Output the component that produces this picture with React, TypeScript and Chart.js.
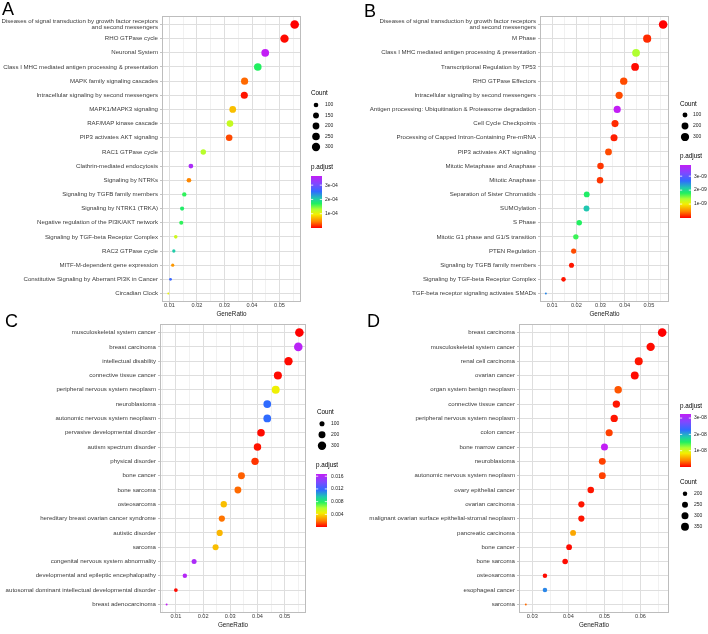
import { useEffect, useRef } from 'react';
import { Chart, registerables } from 'chart.js';

Chart.register(...registerables);

const W = 708;
const H = 634;
const FONT = '"Liberation Sans", Arial, Helvetica, sans-serif';
const TICK_TEXT = '#3A3A3A';
const X_AXIS_H = 20;
const R_MIN = 1.0;
const R_MAX = 4.3;

// rainbow ramp used for p.adjust (low = red, high = purple)
const RAMP: [number, string][] = [
  [0.0, '#FF0000'],
  [0.12, '#FF8000'],
  [0.26, '#F5EE00'],
  [0.36, '#B0FF30'],
  [0.47, '#20F060'],
  [0.57, '#20C8B0'],
  [0.7, '#2F6BFF'],
  [0.85, '#8048FF'],
  [1.0, '#C21EF5'],
];

// ---------- A: Reactome pathways ----------
const termsA = [
  'Diseases of signal transduction by growth factor receptors\nand second messengers',
  'RHO GTPase cycle',
  'Neuronal System',
  'Class I MHC mediated antigen processing & presentation',
  'MAPK family signaling cascades',
  'Intracellular signaling by second messengers',
  'MAPK1/MAPK3 signaling',
  'RAF/MAP kinase cascade',
  'PIP3 activates AKT signaling',
  'RAC1 GTPase cycle',
  'Clathrin-mediated endocytosis',
  'Signaling by NTRKs',
  'Signaling by TGFB family members',
  'Signaling by NTRK1 (TRKA)',
  'Negative regulation of the PI3K/AKT network',
  'Signaling by TGF-beta Receptor Complex',
  'RAC2 GTPase cycle',
  'MITF-M-dependent gene expression',
  'Constitutive Signaling by Aberrant PI3K in Cancer',
  'Circadian Clock',
];
const ratioA = [0.0555, 0.0518, 0.0448, 0.0421, 0.0373, 0.0372, 0.033, 0.032, 0.0317, 0.0223, 0.0178, 0.0171, 0.0154, 0.0146, 0.0143, 0.0123, 0.0116, 0.0112, 0.0104, 0.0096];
const countA = [327, 306, 264, 248, 220, 219, 195, 189, 187, 132, 105, 101, 91, 86, 84, 73, 68, 66, 61, 57];
const padjA = [1.2e-7, 3.6e-6, 3.64e-4, 1.71e-4, 3.6e-5, 7.3e-6, 7.3e-5, 1.2e-4, 2.5e-5, 1.27e-4, 3.46e-4, 4.7e-5, 1.67e-4, 1.75e-4, 1.67e-4, 1.16e-4, 2.04e-4, 5.5e-5, 2.62e-4, 1.02e-4];
const xTicksA = [0.01, 0.02, 0.03, 0.04, 0.05];
const countBreaksA = [100, 150, 200, 250, 300];
const padjBreaksA = [1e-4, 2e-4, 3e-4];
const padjLabelsA = ['1e-04', '2e-04', '3e-04'];

// ---------- B: Reactome pathways ----------
const termsB = [
  'Diseases of signal transduction by growth factor receptors\nand second messengers',
  'M Phase',
  'Class I MHC mediated antigen processing & presentation',
  'Transcriptional Regulation by TP53',
  'RHO GTPase Effectors',
  'Intracellular signaling by second messengers',
  'Antigen processing: Ubiquitination & Proteasome degradation',
  'Cell Cycle Checkpoints',
  'Processing of Capped Intron-Containing Pre-mRNA',
  'PIP3 activates AKT signaling',
  'Mitotic Metaphase and Anaphase',
  'Mitotic Anaphase',
  'Separation of Sister Chromatids',
  'SUMOylation',
  'S Phase',
  'Mitotic G1 phase and G1/S transition',
  'PTEN Regulation',
  'Signaling by TGFB family members',
  'Signaling by TGF-beta Receptor Complex',
  'TGF-beta receptor signaling activates SMADs',
];
const ratioB = [0.0559, 0.0493, 0.0447, 0.0443, 0.0396, 0.0377, 0.0369, 0.036, 0.0356, 0.0333, 0.03, 0.0298, 0.0243, 0.0242, 0.0212, 0.0198, 0.0189, 0.018, 0.0147, 0.0074];
const countB = [330, 291, 264, 261, 234, 222, 218, 212, 210, 196, 177, 176, 143, 143, 125, 117, 112, 106, 87, 44];
const padjB = [2e-12, 1.5e-10, 1.37e-9, 3.8e-11, 2.7e-10, 2.7e-10, 3.8e-9, 1.5e-10, 1.1e-10, 2.7e-10, 1.9e-10, 1.9e-10, 1.82e-9, 2.17e-9, 1.79e-9, 1.71e-9, 2.7e-10, 7.6e-11, 7.6e-11, 2.51e-9];
const xTicksB = [0.01, 0.02, 0.03, 0.04, 0.05];
const countBreaksB = [100, 200, 300];
const padjBreaksB = [1e-9, 2e-9, 3e-9];
const padjLabelsB = ['1e-09', '2e-09', '3e-09'];

// ---------- C: disease ontology ----------
const termsC = [
  'musculoskeletal system cancer',
  'breast carcinoma',
  'intellectual disability',
  'connective tissue cancer',
  'peripheral nervous system neoplasm',
  'neuroblastoma',
  'autonomic nervous system neoplasm',
  'pervasive developmental disorder',
  'autism spectrum disorder',
  'physical disorder',
  'bone cancer',
  'bone sarcoma',
  'osteosarcoma',
  'hereditary breast ovarian cancer syndrome',
  'autistic disorder',
  'sarcoma',
  'congenital nervous system abnormality',
  'developmental and epileptic encephalopathy',
  'autosomal dominant intellectual developmental disorder',
  'breast adenocarcinoma',
];
const ratioC = [0.0554, 0.055, 0.0514, 0.0475, 0.0467, 0.0436, 0.0436, 0.0413, 0.04, 0.0391, 0.0341, 0.0328, 0.0276, 0.0269, 0.0261, 0.0246, 0.0167, 0.0133, 0.01, 0.0066];
const countC = [321, 319, 298, 276, 271, 253, 253, 240, 232, 227, 198, 190, 160, 156, 151, 143, 97, 77, 58, 38];
const padjC = [2e-5, 0.01637, 1.7e-4, 1.7e-4, 0.00451, 0.01169, 0.01169, 1.7e-4, 3.3e-4, 8.4e-4, 0.0015, 0.00167, 0.00334, 0.00184, 0.00317, 0.00334, 0.01587, 0.0162, 1.7e-4, 0.0167];
const xTicksC = [0.01, 0.02, 0.03, 0.04, 0.05];
const countBreaksC = [100, 200, 300];
const padjBreaksC = [0.004, 0.008, 0.012, 0.016];
const padjLabelsC = ['0.004', '0.008', '0.012', '0.016'];

// ---------- D: disease ontology ----------
const termsD = [
  'breast carcinoma',
  'musculoskeletal system cancer',
  'renal cell carcinoma',
  'ovarian cancer',
  'organ system benign neoplasm',
  'connective tissue cancer',
  'peripheral nervous system neoplasm',
  'colon cancer',
  'bone marrow cancer',
  'neuroblastoma',
  'autonomic nervous system neoplasm',
  'ovary epithelial cancer',
  'ovarian carcinoma',
  'malignant ovarian surface epithelial-stromal neoplasm',
  'pancreatic carcinoma',
  'bone cancer',
  'bone sarcoma',
  'osteosarcoma',
  'esophageal cancer',
  'sarcoma',
];
const ratioD = [0.066, 0.0628, 0.0595, 0.0584, 0.0538, 0.0533, 0.0527, 0.0513, 0.05, 0.0494, 0.0494, 0.0462, 0.0436, 0.0436, 0.0413, 0.0402, 0.0391, 0.0335, 0.0335, 0.0282];
const countD = [396, 377, 357, 350, 323, 320, 316, 308, 300, 296, 296, 277, 262, 262, 248, 241, 235, 201, 201, 169];
const padjD = [5e-12, 3.3e-10, 6.5e-10, 3.3e-10, 2.6e-9, 6.5e-10, 6.5e-10, 1.95e-9, 3.25e-8, 1.95e-9, 1.95e-9, 6.5e-10, 6.5e-10, 6.5e-10, 5.5e-9, 3.3e-10, 3.3e-10, 3.3e-10, 2.15e-8, 3.25e-9];
const xTicksD = [0.03, 0.04, 0.05, 0.06];
const countBreaksD = [200, 250, 300, 350];
const padjBreaksD = [1e-8, 2e-8, 3e-8];
const padjLabelsD = ['1e-08', '2e-08', '3e-08'];

type Box = { l: number; t: number; r: number; b: number };
type LegendLayout = {
  countTitle: [number, number];
  keyX: number;
  keyY0: number;
  keyDy: number;
  keyLabelX: number;
  padjTitle: [number, number];
  bar: [number, number, number, number];
  barLabelX: number;
};
type Panel = {
  tag: string;
  tagPos: [number, number];
  terms: string[];
  ratio: number[];
  count: number[];
  padj: number[];
  xTicks: number[];
  countBreaks: number[];
  padjBreaks: number[];
  padjLabels: string[];
  area: Box;
  legend: LegendLayout;
};

const PANELS: Panel[] = [
  {
    tag: 'A', tagPos: [2, 15],
    terms: termsA, ratio: ratioA, count: countA, padj: padjA, xTicks: xTicksA,
    countBreaks: countBreaksA, padjBreaks: padjBreaksA, padjLabels: padjLabelsA,
    area: { l: 162, t: 16, r: 301, b: 302 },
    legend: {
      countTitle: [311, 93], keyX: 316, keyY0: 105, keyDy: 10.5, keyLabelX: 325,
      padjTitle: [311, 167], bar: [311, 176, 11, 52], barLabelX: 325,
    },
  },
  {
    tag: 'B', tagPos: [364, 17],
    terms: termsB, ratio: ratioB, count: countB, padj: padjB, xTicks: xTicksB,
    countBreaks: countBreaksB, padjBreaks: padjBreaksB, padjLabels: padjLabelsB,
    area: { l: 540, t: 16, r: 669, b: 302 },
    legend: {
      countTitle: [680, 104], keyX: 685, keyY0: 115, keyDy: 11, keyLabelX: 693,
      padjTitle: [680, 156], bar: [680, 165, 11, 53], barLabelX: 694,
    },
  },
  {
    tag: 'C', tagPos: [5, 327],
    terms: termsC, ratio: ratioC, count: countC, padj: padjC, xTicks: xTicksC,
    countBreaks: countBreaksC, padjBreaks: padjBreaksC, padjLabels: padjLabelsC,
    area: { l: 160, t: 324, r: 306, b: 613 },
    legend: {
      countTitle: [317, 412], keyX: 322, keyY0: 423.7, keyDy: 11, keyLabelX: 331,
      padjTitle: [316, 465], bar: [316, 474, 11, 53], barLabelX: 331,
    },
  },
  {
    tag: 'D', tagPos: [367, 327],
    terms: termsD, ratio: ratioD, count: countD, padj: padjD, xTicks: xTicksD,
    countBreaks: countBreaksD, padjBreaks: padjBreaksD, padjLabels: padjLabelsD,
    area: { l: 519, t: 324, r: 669, b: 613 },
    legend: {
      countTitle: [680, 482.7], keyX: 685, keyY0: 493.7, keyDy: 11, keyLabelX: 694,
      padjTitle: [680, 406.7], bar: [680, 414, 11, 53], barLabelX: 694,
    },
  },
];

function hexToRgb(h: string): [number, number, number] {
  const n = parseInt(h.slice(1), 16);
  return [(n >> 16) & 255, (n >> 8) & 255, n & 255];
}

function rampColour(t: number): string {
  const u = Math.max(0, Math.min(1, t));
  for (let i = 1; i < RAMP.length; i++) {
    const [t1, c1] = RAMP[i];
    if (u <= t1) {
      const [t0, c0] = RAMP[i - 1];
      const f = (u - t0) / (t1 - t0);
      const a = hexToRgb(c0);
      const b = hexToRgb(c1);
      const m = a.map((v, k) => Math.round(v + (b[k] - v) * f));
      return `rgb(${m[0]},${m[1]},${m[2]})`;
    }
  }
  return RAMP[RAMP.length - 1][1];
}

function isMajor(v: number, majors: number[]) {
  return majors.some((m) => Math.abs(m - v) < 1e-9);
}

function buildChart(canvas: HTMLCanvasElement, p: Panel) {
  const xLo0 = Math.min(...p.ratio);
  const xHi0 = Math.max(...p.ratio);
  const span = xHi0 - xLo0;
  const xLo = xLo0 - span * 0.05;
  const xHi = xHi0 + span * 0.05;
  const step = p.xTicks[1] - p.xTicks[0];
  const minors: number[] = [];
  for (let i = -1; i < p.xTicks.length; i++) {
    const m = (i < 0 ? p.xTicks[0] - step : p.xTicks[i]) + step / 2;
    if (m > xLo && m < xHi) minors.push(m);
  }
  const allX = [...p.xTicks, ...minors].sort((a, b) => a - b);

  const cMin = Math.min(...p.count);
  const cMax = Math.max(...p.count);
  const radius = (c: number) => R_MIN + (R_MAX - R_MIN) * Math.sqrt(Math.max(0, (c - cMin) / (cMax - cMin)));
  const pMin = Math.min(...p.padj);
  const pMax = Math.max(...p.padj);
  const colour = (v: number) => rampColour((v - pMin) / (pMax - pMin));

  const n = p.terms.length;
  const a = p.area;

  const extras = {
    id: 'panelExtras' + p.tag,
    afterDraw(chart: Chart) {
      const ctx = chart.ctx;
      const ca = chart.chartArea;
      const L = p.legend;
      ctx.save();
      // panel border
      ctx.strokeStyle = '#BDBDBD';
      ctx.lineWidth = 1;
      ctx.strokeRect(Math.round(ca.left) + 0.5, Math.round(ca.top) + 0.5, Math.round(ca.right - ca.left) - 1, Math.round(ca.bottom - ca.top) - 1);

      // axis title
      ctx.fillStyle = '#1A1A1A';
      ctx.font = `6.3px ${FONT}`;
      ctx.textAlign = 'center';
      ctx.textBaseline = 'middle';
      ctx.fillText('GeneRatio', (ca.left + ca.right) / 2, ca.bottom + 11.8);

      // panel tag
      ctx.font = `18px ${FONT}`;
      ctx.textAlign = 'left';
      ctx.textBaseline = 'alphabetic';
      ctx.fillStyle = '#000';
      ctx.fillText(p.tag, p.tagPos[0], p.tagPos[1]);

      // size legend
      ctx.textBaseline = 'middle';
      ctx.font = `6.3px ${FONT}`;
      ctx.fillStyle = '#000';
      ctx.fillText('Count', L.countTitle[0], L.countTitle[1]);
      p.countBreaks.forEach((c, i) => {
        const y = L.keyY0 + i * L.keyDy;
        ctx.beginPath();
        ctx.arc(L.keyX, y, radius(c), 0, Math.PI * 2);
        ctx.fillStyle = '#000';
        ctx.fill();
        ctx.fillStyle = '#222';
        ctx.font = `5px ${FONT}`;
        ctx.fillText(String(c), L.keyLabelX, y);
      });

      // colour bar legend
      ctx.font = `6.3px ${FONT}`;
      ctx.fillStyle = '#000';
      ctx.fillText('p.adjust', L.padjTitle[0], L.padjTitle[1]);
      const [bx, by, bw, bh] = L.bar;
      const g = ctx.createLinearGradient(0, by + bh, 0, by);
      RAMP.forEach(([t, c]) => g.addColorStop(t, c));
      ctx.fillStyle = g;
      ctx.fillRect(bx, by, bw, bh);
      ctx.font = `5px ${FONT}`;
      p.padjBreaks.forEach((v, i) => {
        const y = by + bh - ((v - pMin) / (pMax - pMin)) * bh;
        ctx.strokeStyle = '#FFFFFF';
        ctx.lineWidth = 0.8;
        ctx.beginPath();
        ctx.moveTo(bx, y);
        ctx.lineTo(bx + bw * 0.2, y);
        ctx.moveTo(bx + bw * 0.8, y);
        ctx.lineTo(bx + bw, y);
        ctx.stroke();
        ctx.fillStyle = '#222';
        ctx.fillText(p.padjLabels[i], L.barLabelX, y);
      });
      ctx.restore();
    },
  };

  return new Chart(canvas, {
    type: 'scatter',
    data: {
      datasets: [
        {
          data: p.ratio.map((x, i) => ({ x, y: i })),
          pointRadius: p.count.map(radius),
          pointBackgroundColor: p.padj.map(colour),
          pointBorderWidth: 0,
          pointBorderColor: 'rgba(0,0,0,0)',
          pointHoverRadius: 0,
        },
      ],
    },
    options: {
      responsive: false,
      animation: false,
      events: [],
      layout: {
        padding: { left: 0, top: a.t, right: W - a.r, bottom: H - a.b - X_AXIS_H },
      },
      plugins: { legend: { display: false }, tooltip: { enabled: false }, title: { display: false } },
      scales: {
        x: {
          type: 'linear',
          position: 'bottom',
          bounds: 'data',
          min: xLo,
          max: xHi,
          afterBuildTicks: (s: any) => {
            s.ticks = allX.map((v) => ({ value: v }));
          },
          afterFit: (s: any) => {
            s.height = X_AXIS_H;
          },
          ticks: {
            autoSkip: false,
            maxRotation: 0,
            minRotation: 0,
            padding: -1.5,
            color: TICK_TEXT,
            font: { family: FONT, size: 5.6, lineHeight: 1.2 },
            callback: (v: any) => (isMajor(Number(v), p.xTicks) ? Number(v).toFixed(2) : ''),
          },
          grid: {
            color: (ctx: any) => (isMajor(ctx.tick?.value, p.xTicks) ? '#DEDEDE' : '#EBEBEB'),
            lineWidth: (ctx: any) => (isMajor(ctx.tick?.value, p.xTicks) ? 1 : 0.7),
            tickLength: 2,
            tickColor: (ctx: any) => (isMajor(ctx.tick?.value, p.xTicks) ? '#9A9A9A' : 'rgba(0,0,0,0)'),
            tickWidth: 0.6,
          },
          border: { display: false },
        },
        y: {
          type: 'linear',
          reverse: true,
          bounds: 'data',
          min: -0.6,
          max: n - 1 + 0.6,
          afterBuildTicks: (s: any) => {
            s.ticks = p.terms.map((_, i) => ({ value: i }));
          },
          afterFit: (s: any) => {
            s.width = a.l;
          },
          ticks: {
            autoSkip: false,
            padding: 2,
            color: TICK_TEXT,
            font: { family: FONT, size: 6.1, lineHeight: 1 },
            callback: (v: any) => {
              const t = p.terms[Math.round(Number(v))];
              return t ? t.split('\n') : '';
            },
          },
          grid: {
            color: '#DEDEDE',
            lineWidth: 1,
            tickLength: 2,
            tickColor: '#9A9A9A',
            tickWidth: 0.6,
          },
          border: { display: false },
        },
      },
    },
    plugins: [extras],
  } as any);
}

function PanelChart({ panel }: { panel: Panel }) {
  const ref = useRef<HTMLCanvasElement>(null);
  useEffect(() => {
    if (!ref.current) return;
    const chart = buildChart(ref.current, panel);
    return () => chart.destroy();
  }, [panel]);
  return (
    <canvas
      ref={ref}
      width={W}
      height={H}
      style={{ position: 'absolute', left: 0, top: 0, width: W, height: H }}
    />
  );
}

export default function App() {
  return (
    <div style={{ position: 'fixed', left: 0, top: 0, width: W, height: H, background: '#FFFFFF' }}>
      {PANELS.map((p) => (
        <PanelChart key={p.tag} panel={p} />
      ))}
    </div>
  );
}
